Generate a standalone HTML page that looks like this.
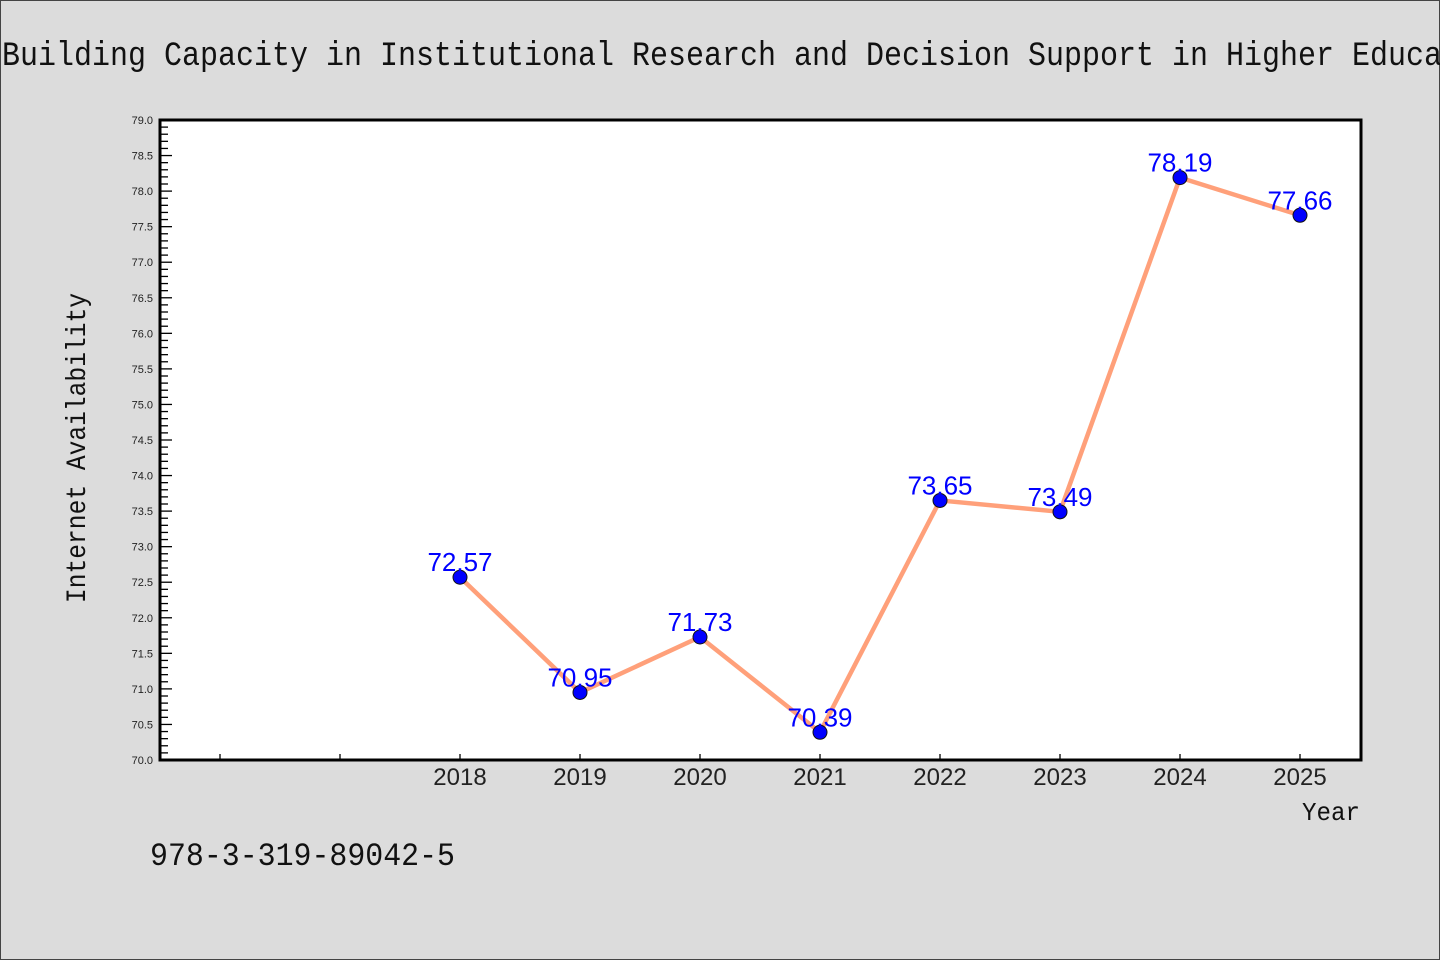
<!DOCTYPE html>
<html><head><meta charset="utf-8"><style>
html,body{margin:0;padding:0;background:#dcdcdc;}
svg{display:block;}
.mono{font-family:"WenQuanYi Zen Hei Mono","WenQuanYi Zen Hei","Liberation Mono",monospace;fill:#111;}
.sans{font-family:"Liberation Sans","DejaVu Sans",sans-serif;}
</style></head><body>
<svg id="chart" width="1440" height="960" viewBox="0 0 1440 960" xmlns="http://www.w3.org/2000/svg">
<rect x="0.5" y="0.5" width="1439" height="959" fill="#dcdcdc" stroke="#444" stroke-width="1"/>
<text class="mono" x="2" y="65" font-size="34" textLength="1440" lengthAdjust="spacingAndGlyphs">Building Capacity in Institutional Research and Decision Support in Higher Educa</text>
<rect x="160" y="120" width="1201" height="640" fill="#fff"/>
<g id="yticks"></g>
<g id="xticks"></g>
<g id="series"></g>
<rect x="160" y="120" width="1201" height="640" fill="none" stroke="#000" stroke-width="3"/>
<text class="mono" font-size="28" text-anchor="middle" transform="translate(85,448) rotate(-90)" textLength="310" lengthAdjust="spacingAndGlyphs">Internet Availability</text>
<text class="mono" font-size="26" x="1302" y="820" textLength="58" lengthAdjust="spacingAndGlyphs">Year</text>
<text class="mono" font-size="32" x="150" y="865" textLength="305" lengthAdjust="spacingAndGlyphs">978-3-319-89042-5</text>
</svg>
<script>
const years = [2018, 2019, 2020, 2021, 2022, 2023, 2024, 2025];
const values = [72.57, 70.95, 71.73, 70.39, 73.65, 73.49, 78.19, 77.66];
const valueLabels = ["72.57","70.95","71.73","70.39","73.65","73.49","78.19","77.66"];
const extraXTicks = [2016, 2017];
const yMin = 70, yMax = 79;
const L=160,R=1361,T=120,B=760;
const NS="http://www.w3.org/2000/svg";
function xScale(yr){return 460 + (yr-2018)*120;}
function yScale(v){return B - (v-yMin)/(yMax-yMin)*(B-T);}
function mk(tag,attrs,parent){const e=document.createElementNS(NS,tag);for(const k in attrs)e.setAttribute(k,attrs[k]);parent.appendChild(e);return e;}
const yg=document.getElementById('yticks');
for(let i=0;i<=90;i++){
  const v=yMin+i*0.1, y=yScale(v), major=(i%5===0);
  const t=mk('line',{x1:L,x2:L+(major?12:8),y1:y,y2:y,stroke:'#000','stroke-width':1.3},yg);
  
  
  if(major){
    const lb=mk('text',{x:L-7,y:y+4,'text-anchor':'end','font-size':11,fill:'#222',class:'sans'},yg);
    
    
    lb.textContent=v.toFixed(1);
  }
}
const xg=document.getElementById('xticks');
extraXTicks.concat(years).forEach(yr=>{
  const x=xScale(yr);
  const t=mk('line',{x1:x,x2:x,y1:B,y2:B-6,stroke:'#000','stroke-width':1.3},xg);
  
  
});
years.forEach(yr=>{
  const lb=mk('text',{x:xScale(yr),y:785,'text-anchor':'middle','font-size':24,fill:'#222',class:'sans'},xg);
  
  
  lb.textContent=String(yr);
});
const sg=document.getElementById('series');
const pts=years.map((yr,i)=>xScale(yr)+','+yScale(values[i])).join(' ');
const pl=mk('polyline',{points:pts,fill:'none',stroke:'#ffa07a','stroke-width':4.5,'stroke-linejoin':'round'},sg);


years.forEach((yr,i)=>{
  const c=mk('circle',{cx:xScale(yr),cy:yScale(values[i]),r:7,fill:'#0000ff',stroke:'#111','stroke-width':1},sg);
  
  
});
years.forEach((yr,i)=>{
  const lb=mk('text',{x:xScale(yr),y:yScale(values[i])-6,'text-anchor':'middle','font-size':26,fill:'#0000ff',class:'sans'},sg);
  
  
  lb.textContent=valueLabels[i];
});
</script>
</body></html>
